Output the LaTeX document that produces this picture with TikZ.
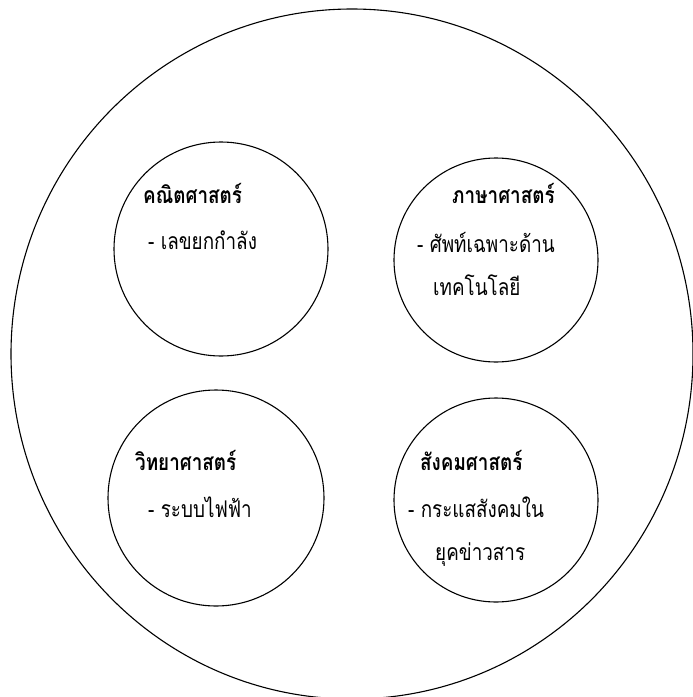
\documentclass[tikz,border=0pt]{standalone}
\usepackage{fontspec}
\setmainfont[Script=Thai,FakeStretch=0.82]{Loma}
\usetikzlibrary{shapes.geometric}

\begin{document}
\begin{tikzpicture}[x=1pt,y=-1pt,
  ring/.style={draw, circle, line width=1.1pt, inner sep=0pt},
  head/.style={anchor=base west, inner sep=0pt, font=\fontsize{23}{26}\selectfont\bfseries},
  item/.style={anchor=base west, inner sep=0pt, font=\fontsize{23}{26}\selectfont}]
\useasboundingbox (0,0) rectangle (693,697);

\node[draw, ellipse, line width=1.1pt, inner sep=0pt, minimum width=682pt, minimum height=690pt] (world) at (352,354) {}; % outer ring

% four subject rings
\node[ring, minimum size=214pt] (math) at (221,249) {};
\node[ring, minimum size=204pt] (lang) at (496,260) {};
\node[ring, minimum size=216pt] (sci) at (216,498) {};
\node[ring, minimum size=204pt] (soc) at (496,500) {};

% texts
\node[head] (mathhead) at (143,203) {คณิตศาสตร์};
\node[item] (mathitem) at (148,249) {- เลขยกกำลัง};

\node[head] (langhead) at (452,203) {ภาษาศาสตร์};
\node[item] (langitem) at (417,252) {- ศัพท์เฉพาะด้าน};
\node[item] (langmore) at (433,295) {เทคโนโลยี};

\node[head] (scihead) at (135,470) {วิทยาศาสตร์};
\node[item] (sciitem) at (148,517) {- ระบบไฟฟ้า};

\node[head] (sochead) at (420,470) {สังคมศาสตร์};
\node[item] (socitem) at (408,517) {- กระแสสังคมใน};
\node[item] (socmore) at (435,560) {ยุคข่าวสาร};

\end{tikzpicture}
\end{document}
